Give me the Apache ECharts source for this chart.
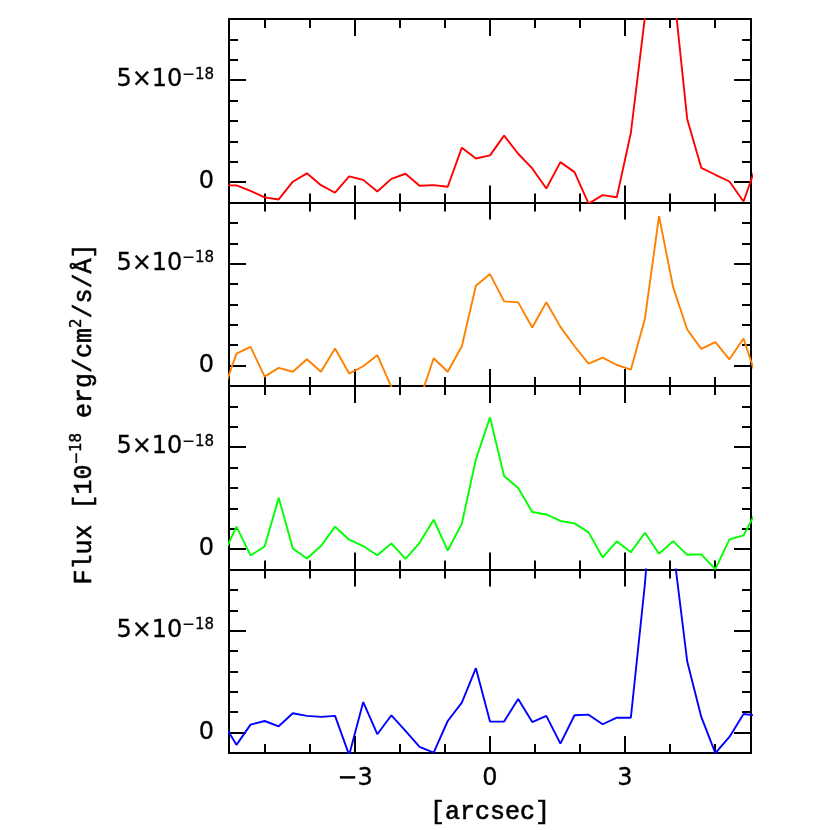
<!DOCTYPE html>
<html>
<head>
<meta charset="utf-8">
<script src="https://cdn.jsdelivr.net/npm/echarts@6/dist/echarts.min.js"></script>
<style>html,body{margin:0;padding:0;background:#fff}#c{width:830px;height:830px}</style>
</head>
<body>
<div id="c"></div>
<script>
// Offsets along the slit [arcsec]
const offsets = [-5.947,-5.634,-5.321,-5.008,-4.695,-4.382,-4.069,-3.756,-3.443,-3.13,-2.817,-2.504,-2.191,-1.878,-1.565,-1.252,-0.939,-0.626,-0.313,0,0.313,0.626,0.939,1.252,1.565,1.878,2.191,2.504,2.817,3.13,3.443,3.756,4.069,4.382,4.695,5.008,5.321,5.634,5.947];
// Flux in units of 1e-18 erg/cm2/s/A
const fluxRed =    [-0.16,-0.16,-0.43,-0.75,-0.85,0.02,0.43,-0.15,-0.52,0.28,0.11,-0.46,0.16,0.41,-0.18,-0.15,-0.23,1.69,1.16,1.31,2.28,1.39,0.67,-0.31,0.98,0.49,-1.05,-0.64,-0.74,2.41,8.1,16,9.7,3.1,0.70,0.36,0.03,-0.95,1.0];
const fluxOrange = [-1.37,0.59,0.92,-0.54,-0.11,-0.30,0.31,-0.30,0.84,-0.39,-0.03,0.51,-1.05,-1.6,-1.7,0.36,-0.30,0.95,3.92,4.49,3.15,3.10,1.87,3.11,1.90,0.95,0.10,0.39,0.03,-0.20,2.30,7.33,3.85,1.77,0.82,1.15,0.31,1.33,-0.75];
const fluxGreen =  [-0.37,1.10,-0.31,0.13,2.52,0.03,-0.46,0.15,1.10,0.46,0.15,-0.30,0.28,-0.48,0.31,1.44,-0.07,1.25,4.41,6.46,3.59,3.00,1.82,1.70,1.38,1.26,0.82,-0.41,0.38,-0.15,0.80,-0.23,0.39,-0.28,-0.26,-0.98,0.48,0.67,1.98];
const fluxBlue =   [0.54,-0.60,0.39,0.57,0.31,0.95,0.82,0.77,0.82,-1.1,1.50,-0.08,0.85,0.08,-0.70,-0.98,0.57,1.47,3.16,0.54,0.54,1.65,0.52,0.82,-0.54,0.85,0.88,0.41,0.73,0.73,7.3,16,9.1,3.5,0.77,-1.01,-0.21,0.91,0.83];
const seriesList = [fluxRed, fluxOrange, fluxGreen, fluxBlue];
const colors = ['#ff0000', '#ff8000', '#00ff00', '#0000ff'];
// Axis ticks
const xMinorTicks = [-5,-4,-3,-2,-1,0,1,2,3,4,5];
const xMajorTicks = [-3,0,3];
const yMinorTicks = [1,2,3,4,6,7];
const yMajorTicks = [0,5];
const yTickLabels = {0: '{a|0}', 5: '{a|5×10}{b|−18}'};
const xTitle = '[arcsec]';
const yTitle = '{a|Flux [10}{b|−18}{a| erg/cm}{b|2}{a|/s/Å]}';

const XMIN = -5.8, XMAX = 5.8, YMIN = -1, YMAX = 8;
const panelTop = 19, panelH = 183.5, left = 229, width = 522;
const black = '#000';
const numFont = 'DejaVu Sans';
const txtFont = 'Liberation Mono';

const grid = [], xAxis = [], yAxis = [], series = [];
for (let i = 0; i < 4; i++) {
  grid.push({left: left, width: width, top: panelTop + i * panelH, height: panelH});
  ['bottom', 'top'].forEach(pos => {
    [[xMinorTicks, 9, true], [xMajorTicks, 17, false]].forEach(([ticks, len, line]) => {
      const showLab = (i === 3 && pos === 'bottom' && !line);
      xAxis.push({
        gridIndex: i, type: 'value', position: pos, min: XMIN, max: XMAX,
        axisLine: {show: line, onZero: false, lineStyle: {color: black, width: 2}},
        axisTick: {show: true, inside: true, length: len, customValues: ticks, lineStyle: {color: black, width: 2}},
        axisLabel: showLab ? {show: true, customValues: xMajorTicks, margin: 14, color: black,
          fontFamily: numFont, fontSize: 24, textBorderColor: black, textBorderWidth: 0.3,
          formatter: v => v < 0 ? '−' + (-v) : String(v)} : {show: false},
        splitLine: {show: false}
      });
    });
  });
  ['left', 'right'].forEach(pos => {
    [[yMinorTicks, 9, true], [yMajorTicks, 17, false]].forEach(([ticks, len, line]) => {
      const showLab = (pos === 'left' && !line);
      yAxis.push({
        gridIndex: i, type: 'value', position: pos, min: YMIN, max: YMAX,
        axisLine: {show: line, onZero: false, lineStyle: {color: black, width: 2}},
        axisTick: {show: true, inside: true, length: len, customValues: ticks, lineStyle: {color: black, width: 2}},
        axisLabel: showLab ? {show: true, customValues: yMajorTicks, margin: 15, color: black,
          formatter: v => yTickLabels[v],
          rich: {
            a: {fontFamily: numFont, fontSize: 24, color: black, textBorderColor: black, textBorderWidth: 0.3, lineHeight: 26},
            b: {fontFamily: numFont, fontSize: 15, color: black, textBorderColor: black, textBorderWidth: 0.3, verticalAlign: 'top', lineHeight: 15}
          }} : {show: false},
        splitLine: {show: false}
      });
    });
  });
  series.push({
    type: 'line', xAxisIndex: i * 4, yAxisIndex: i * 4,
    data: offsets.map((x, j) => [x, seriesList[i][j]]),
    symbol: 'none', clip: true, animation: false,
    lineStyle: {color: colors[i], width: 1.9}
  });
}

const chart = echarts.init(document.getElementById('c'), null, {renderer: 'canvas'});
chart.setOption({
  backgroundColor: '#fff',
  animation: false,
  grid, xAxis, yAxis, series,
  graphic: [
    {type: 'text', x: 490, y: 812, style: {text: xTitle, fontFamily: txtFont, fontSize: 25, fill: black, stroke: black, lineWidth: 0.6, textAlign: 'center', textVerticalAlign: 'middle'}},
    {type: 'text', x: 84, y: 414, rotation: Math.PI / 2, style: {text: yTitle, textAlign: 'center', textVerticalAlign: 'middle',
      rich: {
        a: {fontFamily: txtFont, fontSize: 25, fill: black, stroke: black, lineWidth: 0.6, lineHeight: 28},
        b: {fontFamily: numFont, fontSize: 15, fill: black, stroke: black, lineWidth: 0.4, verticalAlign: 'top', lineHeight: 15}
      }}}
  ]
});
</script>
</body>
</html>
